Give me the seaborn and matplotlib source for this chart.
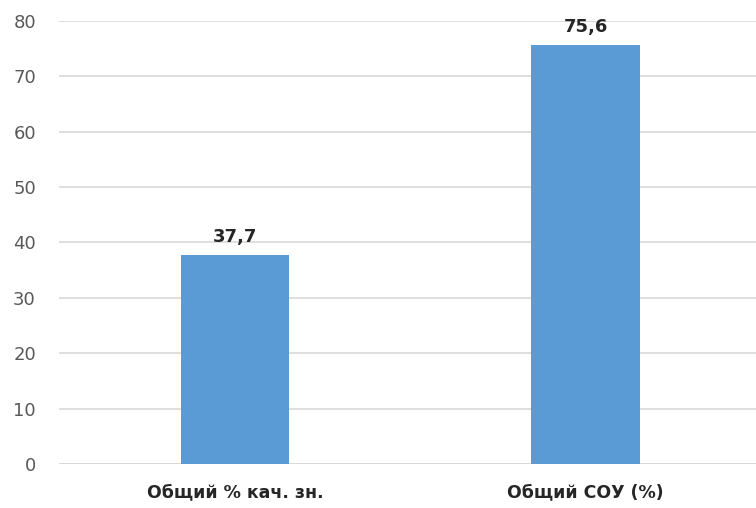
import matplotlib
matplotlib.use("Agg")
import matplotlib.pyplot as plt
import seaborn as sns
import pandas as pd

# Datos
categorias = ["Общий % кач. зн.", "Общий СОУ (%)"]
valores = [37.7, 75.6]
etiquetas = ["37,7", "75,6"]
ticks_y = [0, 10, 20, 30, 40, 50, 60, 70, 80]

sns.set_style("white")
plt.rcParams["font.family"] = ["DejaVu Sans"]

df = pd.DataFrame({"categoria": categorias, "valor": valores})

fig = plt.figure(figsize=(7.56, 5.08), dpi=100)
ax = fig.add_axes([0.0787, 0.0866, 0.928, 0.8721])

sns.barplot(data=df, x="categoria", y="valor", color="#5B9BD5", width=0.31,
            saturation=1, linewidth=0, ax=ax, zorder=3)

ax.set_ylim(0, 80)
ax.set_yticks(ticks_y)
ax.set_xlim(-0.5, 1.5)
ax.yaxis.grid(True, color="#D9D9D9", linewidth=1.2, zorder=0)
ax.set_axisbelow(True)
for lado in ["top", "right", "left", "bottom"]:
    ax.spines[lado].set_visible(False)
ax.axhline(0, color="#D9D9D9", linewidth=1.2, zorder=1)

ax.tick_params(axis="y", length=0, pad=17, labelsize=13, labelcolor="#595959")
ax.tick_params(axis="x", length=0, pad=14, labelsize=12.5)
for t in ax.get_xticklabels():
    t.set_fontweight("bold")
    t.set_color("#262626")
ax.set_xlabel("")
ax.set_ylabel("")

# Etiquetas de valor
for i, (v, txt) in enumerate(zip(valores, etiquetas)):
    ax.text(i, v + 1.7, txt, ha="center", va="bottom", fontsize=13,
            fontweight="bold", color="#262626", clip_on=False)

fig.savefig("out.png", dpi=100)
